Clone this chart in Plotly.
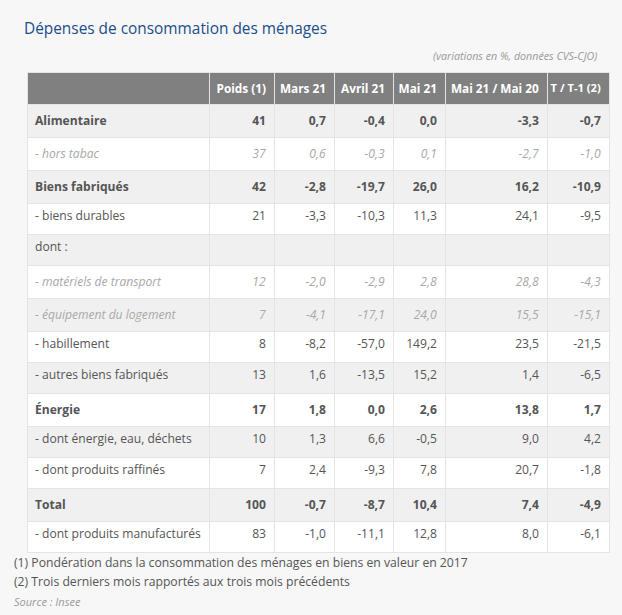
import plotly.graph_objects as go

labels = ["Alimentaire", "- hors tabac", "Biens fabriqués", "- biens durables", "dont :",
          "- matériels de transport", "- équipement du logement", "- habillement",
          "- autres biens fabriqués", "Énergie", "- dont énergie, eau, déchets",
          "- dont produits raffinés", "Total", "- dont produits manufacturés"]
poids = ["41", "37", "42", "21", "", "12", "7", "8", "13", "17", "10", "7", "100", "83"]
mars21 = ["0,7", "0,6", "-2,8", "-3,3", "", "-2,0", "-4,1", "-8,2", "1,6", "1,8", "1,3", "2,4", "-0,7", "-1,0"]
avril21 = ["-0,4", "-0,3", "-19,7", "-10,3", "", "-2,9", "-17,1", "-57,0", "-13,5", "0,0", "6,6", "-9,3", "-8,7", "-11,1"]
mai21 = ["0,0", "0,1", "26,0", "11,3", "", "2,8", "24,0", "149,2", "15,2", "2,6", "-0,5", "7,8", "10,4", "12,8"]
mai21_mai20 = ["-3,3", "-2,7", "16,2", "24,1", "", "28,8", "15,5", "23,5", "1,4", "13,8", "9,0", "20,7", "7,4", "8,0"]
t_t1 = ["-0,7", "-1,0", "-10,9", "-9,5", "", "-4,3", "-15,1", "-21,5", "-6,5", "1,7", "4,2", "-1,8", "-4,9", "-6,1"]
headers = ["", "Poids (1)", "Mars 21", "Avril 21", "Mai 21", "Mai 21 / Mai 20", "T / T-1 (2)"]
styles = ["b", "i", "b", "", "", "i", "i", "", "", "b", "", "", "b", ""]

NB = "\u00a0"

def fmt(v, s):
    v = v.replace(" ", NB)
    if not v:
        return v
    if s == "b":
        return "<b>" + v + "</b>"
    if s == "i":
        return "<i>" + v + "</i>"
    return v

cols = [labels, poids, mars21, avril21, mai21, mai21_mai20, t_t1]
cell_values = [[fmt(v, s) for v, s in zip(col, styles)] for col in cols]
row_fill = ["#f0f0f0" if i % 2 == 0 else "#ffffff" for i in range(len(labels))]
row_color = ["#a8a8a8" if s == "i" else "#555555" for s in styles]

W, H = 622, 615
x0, x1 = 27, 609
top = 72
col_w = [182, 65, 60, 59, 52, 102, 62]

fig = go.Figure(go.Table(
    domain=dict(x=[x0 / W, x1 / W], y=[0, 1 - top / H]),
    columnwidth=col_w,
    header=dict(values=["<b>" + h.replace(" ", NB) + "</b>" if h else "" for h in headers],
                fill_color="#808080", line=dict(color="#e4e4e4", width=1),
                font=dict(family="Open Sans", size=[11.8] * 6 + [11.2], color="white"),
                align=["left"] + ["right"] * 6, height=30),
    cells=dict(values=cell_values,
               fill_color=[row_fill] * 7,
               line=dict(color="#e4e4e4", width=1),
               font=dict(family="Open Sans", size=12.1, color=[row_color] * 7),
               align=["left"] + ["right"] * 6, height=31),
))

fig.add_annotation(text="Dépenses de consommation des ménages", x=22 / W, y=1 - 29 / H,
                   xref="paper", yref="paper", xanchor="left", yanchor="middle", showarrow=False,
                   font=dict(family="Open Sans", size=15.4, color="#1c4d8c"))
fig.add_annotation(text="<i>(variations en %, données CVS-CJO)</i>", x=599 / W, y=1 - 56 / H,
                   xref="paper", yref="paper", xanchor="right", yanchor="middle", showarrow=False,
                   font=dict(family="Open Sans", size=10.7, color="#999999"))
fig.add_annotation(text="(1) Pondération dans la consommation des ménages en biens en valeur en 2017",
                   x=12 / W, y=1 - 562 / H, xref="paper", yref="paper", xanchor="left", yanchor="middle",
                   showarrow=False, font=dict(family="Open Sans", size=12.2, color="#555555"))
fig.add_annotation(text="(2) Trois derniers mois rapportés aux trois mois précédents",
                   x=12 / W, y=1 - 581 / H, xref="paper", yref="paper", xanchor="left", yanchor="middle",
                   showarrow=False, font=dict(family="Open Sans", size=12.2, color="#555555"))
fig.add_annotation(text="<i>Source : Insee</i>",
                   x=12 / W, y=1 - 601 / H, xref="paper", yref="paper", xanchor="left", yanchor="middle",
                   showarrow=False, font=dict(family="Open Sans", size=11, color="#999999"))

fig.update_layout(width=W, height=H, margin=dict(l=0, r=0, t=0, b=0),
                  paper_bgcolor="#f7f7f7", plot_bgcolor="#f7f7f7")
fig.write_html("out.html", config={"displayModeBar": False},
               post_script="document.body.style.margin='0';")
